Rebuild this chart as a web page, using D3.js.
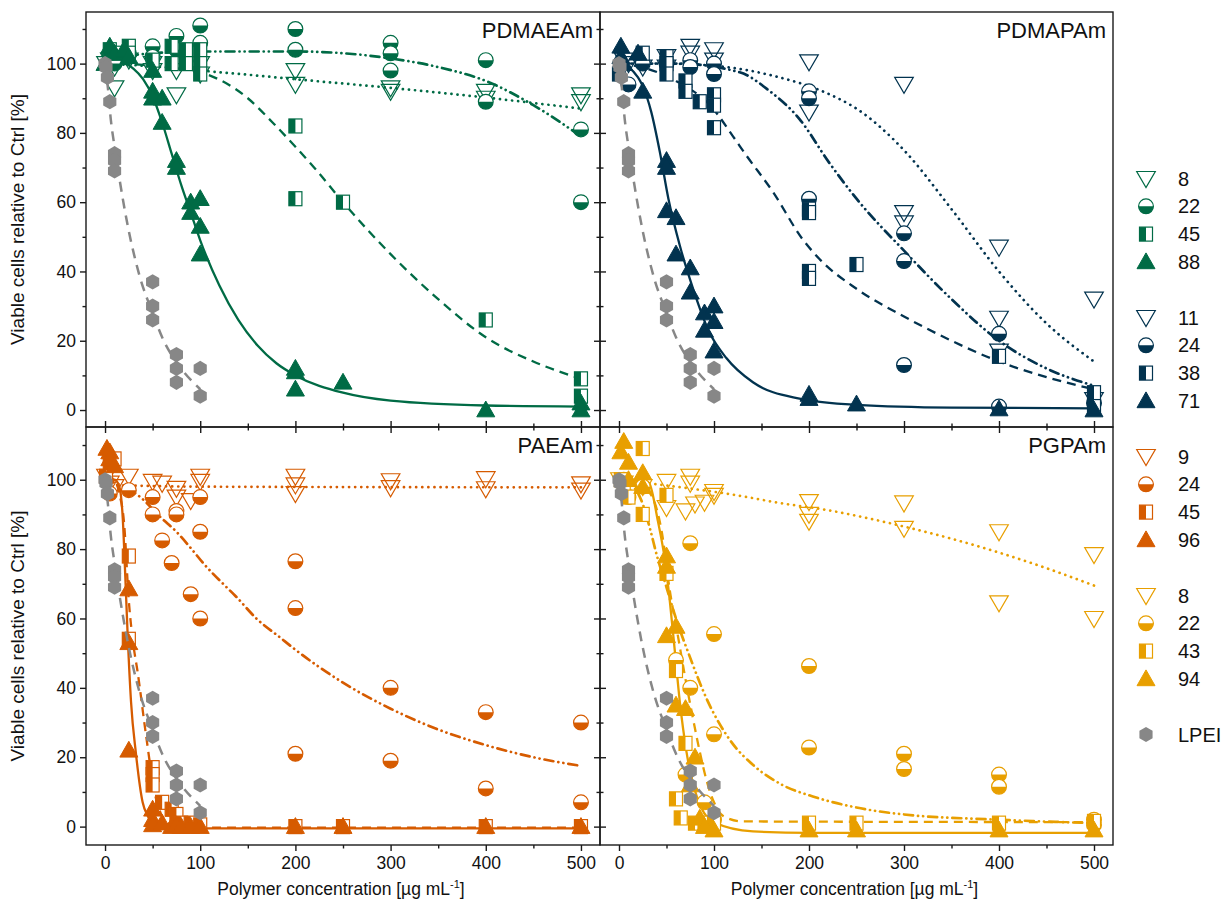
<!DOCTYPE html>
<html>
<head>
<meta charset="utf-8">
<script src="https://cdn.jsdelivr.net/npm/d3@7"></script>
<style>
  body { margin: 0; background: #fff; }
  svg { display: block; }
  text { font-family: "Liberation Sans", Arial, sans-serif; fill: #111; }
</style>
</head>
<body>
<svg id="chart" width="1229" height="913"></svg>
<script>
// ---- data: [concentration µg/mL, viability %] ----
const lpeiPts = [[0,100],[1,99],[2.5,96],[5,89],[10,74],[10,72],[10,69],[50,37],[50,30],[50,26],[75,16],[75,12],[75,8],[100,12],[100,4]];
const lpeiFit = [[0,100],[3,93],[6,84],[10,76],[15,67],[24,53],[36,39],[50,28],[60,21],[80,12],[100,6]];

// PDMAEAm
const aeam8 = [[1,100],[5,101],[10,99],[10,93],[25,101],[50,98],[50,100],[75,98],[75,91],[100,97],[100,100],[200,98],[200,94],[300,92],[300,93],[400,92],[400,90],[500,91],[500,89]];
const aeam8Fit = [[0,100],[50,99.2],[100,98],[150,96.8],[200,95.5],[300,93],[400,90.2],[500,87]];
const aeam22 = [[5,102],[10,100],[25,103],[50,105],[50,102],[75,108],[75,104],[100,111],[100,106],[200,110],[200,104],[300,106],[300,103],[300,98],[400,101],[400,89],[500,81],[500,60]];
const aeam22Fit = [[0,101],[50,103],[100,103.5],[200,103.5],[300,101.5],[350,99],[400,95],[450,88],[500,79]];
const aeam45 = [[5,104],[10,103],[25,105],[25,103],[50,101],[70,105],[70,100],[85,104],[85,100],[100,104],[100,100],[100,97],[200,82],[200,61],[250,60],[400,26],[500,9],[500,4]];
const aeam45Fit = [[0,100],[50,99.5],[100,97.5],[150,90],[176,83],[200,76],[221,69.6],[250,60],[300,45],[350,32],[400,21],[450,14],[500,9]];
const aeam88 = [[0,100],[5,105],[10,103],[20,104],[25,102],[50,98],[50,92],[50,90],[60,90],[60,83],[75,72],[75,70],[90,60],[90,57],[100,61],[100,53],[100,45],[200,12],[200,11],[200,6],[250,8],[400,0],[500,2],[500,0]];
const aeam88Fit = [[0,100],[20,100],[30,98.5],[40,95.5],[50,90.5],[60,83],[70,74],[80,65],[90,57],[100,49],[120,36],[140,26],[160,18.7],[180,13.5],[200,10],[250,5],[300,2.7],[400,1.3],[500,1]];

// PDMAPAm
const apam11 = [[5,101],[10,100],[25,99],[50,102],[50,99],[75,105],[75,103],[100,104],[100,101],[200,100.5],[200,86],[300,94],[300,57],[300,54],[400,47],[400,26.5],[400,17],[500,32],[500,3]];
const apam11Fit = [[0,100],[50,100],[113,99],[162,96.5],[221,91.2],[250,87],[300,75],[350,58],[400,40],[450,25],[500,14]];
const apam24 = [[10,94],[25,100],[50,100],[75,101],[75,99],[100,100],[100,97],[200,92],[200,90],[200,61],[300,51],[300,43],[300,13],[400,22],[400,1],[500,2]];
const apam24Fit = [[0,100],[60,100],[127,97.5],[158,92.2],[190,84],[221,71.5],[250,61],[300,46],[350,32],[400,20],[450,12],[500,7]];
const apam38 = [[0,97],[25,103],[50,102],[50,100],[50,97],[70,95],[70,92],[85,89],[100,91],[100,88],[100,81.5],[200,58],[200,57],[200,40],[200,38],[250,42],[400,15.5],[500,5],[500,1]];
const apam38Fit = [[0,100],[30,98.5],[60,95],[99,87],[120,79],[134,73.5],[162,63],[193,49.4],[211,43.6],[250,35],[300,27],[350,20],[400,14],[450,9.5],[500,6]];
const apam71 = [[2,105],[2,102],[5,100],[20,103],[25,92],[50,72],[50,70],[50,57.5],[60,55.5],[60,45],[75,41],[75,34],[90,28],[100,30],[90,23],[100,25.5],[100,17],[200,4.5],[200,3.3],[250,1.7],[400,0.3],[500,0]];
const apam71Fit = [[0,100],[10,99],[20,96],[25,93.5],[34,86],[43,74.5],[52,61],[64,47.5],[78,35],[95,22.5],[113,15],[141,8],[190,3.3],[250,1.5],[350,0.7],[500,0.5]];

// PAEAm
const aea9 = [[1,101],[5,99],[10,98],[25,101],[50,99.5],[60,99],[75,97.5],[75,95],[90,94],[100,101],[100,99.5],[200,101],[200,98.5],[200,96],[300,99.7],[300,97.7],[400,100.3],[400,97.4],[500,98.8],[500,97]];
const aea9Fit = [[0,98.5],[100,98],[500,97.8]];
const aea24 = [[5,96],[25,97],[50,95],[50,90],[60,82.5],[70,76],[75,91],[75,90],[90,67],[100,60],[100,95],[100,85],[200,76.5],[200,63],[200,21],[300,40],[300,19],[400,33],[400,11],[500,30],[500,7]];
const aea24Fit = [[0,100],[20,98],[37,95],[59,89],[75,85],[91,80],[103,76],[124,70],[137,66.5],[159,60],[184,54.5],[200,51],[250,41.5],[300,34],[350,28],[400,23.5],[450,20],[500,17.5]];
const aea45 = [[1,101],[5,105],[10,106],[25,78],[25,54],[50,17],[50,15],[50,12],[60,7],[70,5],[75,3.5],[80,1],[90,1],[100,0.5],[200,0],[250,0],[400,0],[500,0]];
const aea45Fit = [[0,101],[10,100],[15,96],[20,87.5],[25,65],[30,52],[34,45],[43,26.5],[52,10],[60,3],[70,0.5],[100,-0.3],[500,-0.3]];
const aea96 = [[2,109],[5,108],[5,106],[10,104],[25,68.5],[25,53],[25,22],[50,5],[50,2],[50,0.5],[60,1],[70,0],[75,0.5],[80,0],[90,0],[100,0],[200,0],[250,0],[400,0],[500,0]];
const aea96Fit = [[0,100],[10,100],[15,98],[18.6,89],[21.3,72],[23.8,55],[27.3,36],[32.5,21],[39.5,7],[45,3],[50,1],[60,0],[100,-0.5],[500,-0.5]];

// PGPAm
const gpa8 = [[1,100],[5,99],[25,98],[50,99.5],[50,92],[70,91],[75,101],[75,99],[80,93],[90,93.5],[100,96.6],[100,95.5],[200,93.7],[200,90],[200,88],[300,93.3],[300,86],[400,85],[400,64.5],[500,78.4],[500,60]];
const gpa8Fit = [[0,100],[60,98],[120,95.7],[169,93.3],[218,91.3],[300,86.5],[350,83],[400,79],[450,74.5],[500,69.5]];
const gpa22 = [[5,100],[10,95],[25,98],[60,48],[75,81.7],[75,40],[70,15],[90,7],[100,55.5],[100,26.6],[100,2],[200,46.3],[200,22.8],[300,21],[300,16.6],[400,15],[400,11.5],[500,2],[500,0.5]];
const gpa22Fit = [[0,100],[15,98],[25,93],[32.5,86],[40,78],[50,69],[58.8,61],[74.5,49],[92,37],[118,24.5],[141,17.8],[172,12],[204,8.7],[250,5.5],[300,3.5],[400,2],[500,1]];
const gpa43 = [[2,100],[5,97],[10,95],[25,109],[25,90],[50,95.5],[50,73],[60,45],[70,24],[60,8],[65,2.5],[80,1],[90,1],[100,1],[200,1],[250,1],[400,1],[500,1.5]];
const gpa43Fit = [[0,100],[20,99],[35,95],[45,85],[53.5,68],[62,55],[69,44],[78,31],[85,21.6],[92,13.5],[100,7],[110,3],[130,1.5],[500,1.3]];
const gpa94 = [[2,108],[5,111],[10,105],[10,100],[25,102],[25,98],[50,78],[50,75],[50,55],[60,57.7],[60,35],[70,34],[80,20],[75,12],[85,2.4],[90,0],[100,-1],[200,-1],[250,-1],[400,-1],[500,-1]];
const gpa94Fit = [[0,100],[20,100],[30,99.5],[32.5,98.6],[41,88],[48,77.4],[53.5,65],[58.8,50.5],[64,36],[71,21.6],[81.5,9],[99,1.4],[141,-1.4],[200,-1.8],[500,-1.8]];

const panelTitles = ['PDMAEAm', 'PDMAPAm', 'PAEAm', 'PGPAm'];
const panelColors = ['#006b45', '#02334f', '#d65b00', '#e89f00'];
const lpeiColor = '#878787';
const legendLabels = [['8','22','45','88'], ['11','24','38','71'], ['9','24','45','96'], ['8','22','43','94']];
const xTicks = [0, 100, 200, 300, 400, 500];
const yTicks = [0, 20, 40, 60, 80, 100];

// ---- layout ----
const svg = d3.select('#chart');
const cols = [[86, 600], [600, 1113]];
const rows = [[12, 427], [427, 845]];
const yDomains = [[-4.9, 114.9], [-5.3, 115.2]];
const shapes = ['tdown', 'circ', 'sq', 'tup'];
const dashes = ['0.1,6', '9,5,0.1,5,0.1,5', '9,6', null];

const panels = [
  { series: [aeam8, aeam22, aeam45, aeam88], fits: [aeam8Fit, aeam22Fit, aeam45Fit, aeam88Fit] },
  { series: [apam11, apam24, apam38, apam71], fits: [apam11Fit, apam24Fit, apam38Fit, apam71Fit] },
  { series: [aea9, aea24, aea45, aea96], fits: [aea9Fit, aea24Fit, aea45Fit, aea96Fit] },
  { series: [gpa8, gpa22, gpa43, gpa94], fits: [gpa8Fit, gpa22Fit, gpa43Fit, gpa94Fit] }
];

function drawMarker(g, shape, color, s) {
  s = s || 1;
  if (shape === 'tdown') {
    g.append('path').attr('d', `M${-9.3*s},${-7*s}L${9.3*s},${-7*s}L0,${9*s}Z`)
      .attr('fill', 'none').attr('stroke', color).attr('stroke-width', 1.2);
  } else if (shape === 'tup') {
    g.append('path').attr('d', `M${-9*s},${6.8*s}L${9*s},${6.8*s}L0,${-9*s}Z`)
      .attr('fill', color).attr('stroke', color).attr('stroke-width', 1);
  } else if (shape === 'circ') {
    const r = 7.4 * s;
    g.append('circle').attr('r', r).attr('fill', '#fff').attr('stroke', color).attr('stroke-width', 1.2);
    g.append('path').attr('d', `M${-r},0A${r},${r} 0 0 0 ${r},0Z`).attr('fill', color);
  } else if (shape === 'sq') {
    g.append('rect').attr('x', -6.5*s).attr('y', -7*s).attr('width', 13*s).attr('height', 14*s)
      .attr('fill', '#fff').attr('stroke', color).attr('stroke-width', 1.2);
    g.append('rect').attr('x', -6.5*s).attr('y', -7*s).attr('width', 6.5*s).attr('height', 14*s)
      .attr('fill', color);
  } else if (shape === 'hex') {
    const r = 7.6 * s;
    const pts = d3.range(6).map(k => {
      const a = (-90 + 60 * k) * Math.PI / 180;
      return [r * Math.cos(a), r * Math.sin(a)];
    });
    g.append('path').attr('d', 'M' + pts.join('L') + 'Z').attr('fill', color);
  }
}

panels.forEach((p, i) => {
  const c = i % 2, r = Math.floor(i / 2);
  const [x0, x1] = cols[c], [y0, y1] = rows[r];
  const x = d3.scaleLinear().domain([-20, 520]).range([x0, x1]);
  const y = d3.scaleLinear().domain(yDomains[r]).range([y1, y0]);
  const color = panelColors[i];

  const clipId = 'clip' + i;
  svg.append('clipPath').attr('id', clipId).append('rect')
    .attr('x', x0).attr('y', y0).attr('width', x1 - x0).attr('height', y1 - y0);
  const plot = svg.append('g').attr('clip-path', `url(#${clipId})`);

  const line = d3.line().x(d => x(d[0])).y(d => y(d[1])).curve(d3.curveMonotoneX);

  p.fits.forEach((f, k) => {
    plot.append('path').datum(f).attr('d', line)
      .attr('fill', 'none').attr('stroke', color).attr('stroke-width', k <= 1 ? 2.7 : 2.3)
      .attr('stroke-linecap', k <= 1 ? 'round' : 'butt')
      .attr('stroke-dasharray', dashes[k]);
  });

  p.series.forEach((s, k) => {
    plot.selectAll(null).data(s).enter().append('g')
      .attr('transform', d => `translate(${x(d[0])},${y(d[1])})`)
      .each(function () { drawMarker(d3.select(this), shapes[k], color); });
  });

  // LPEI reference on top
  plot.append('path').datum(lpeiFit).attr('d', line)
    .attr('fill', 'none').attr('stroke', lpeiColor).attr('stroke-width', 2.5)
    .attr('stroke-dasharray', '10,7');
  plot.selectAll(null).data(lpeiPts).enter().append('g')
    .attr('transform', d => `translate(${x(d[0])},${y(d[1])})`)
    .each(function () { drawMarker(d3.select(this), 'hex', lpeiColor); });

  // frame
  svg.append('rect').attr('x', x0).attr('y', y0).attr('width', x1 - x0).attr('height', y1 - y0)
    .attr('fill', 'none').attr('stroke', '#1a1a1a').attr('stroke-width', 1.4);

  const styleAxis = g => {
    g.select('.domain').remove();
    g.selectAll('line').attr('stroke', '#1a1a1a').attr('stroke-width', 1.4);
    g.selectAll('text').style('font-size', '17.5px').attr('fill', '#111');
  };
  const minorY = d3.range(10, 115, 20);
  const minorX = d3.range(50, 500, 100);

  // y axis: labels on the outer left, crossing ticks on the middle line
  if (c === 0) {
    svg.append('g').attr('transform', `translate(${x0},0)`)
      .call(d3.axisLeft(y).tickValues(yTicks).tickSize(6).tickPadding(4)).call(styleAxis);
    svg.append('g').attr('transform', `translate(${x0},0)`)
      .call(d3.axisLeft(y).tickValues(minorY).tickSize(3.5).tickFormat('')).call(styleAxis);
  } else {
    [d3.axisLeft, d3.axisRight].forEach(ax => {
      svg.append('g').attr('transform', `translate(${x0},0)`)
        .call(ax(y).tickValues(yTicks).tickSize(6).tickFormat('')).call(styleAxis);
      svg.append('g').attr('transform', `translate(${x0},0)`)
        .call(ax(y).tickValues(minorY).tickSize(3.5).tickFormat('')).call(styleAxis);
    });
  }

  // x axis: labels at the bottom row, crossing ticks on the middle line
  if (r === 1) {
    svg.append('g').attr('transform', `translate(0,${y1})`)
      .call(d3.axisBottom(x).tickValues(xTicks).tickSize(6).tickPadding(6)).call(styleAxis);
    svg.append('g').attr('transform', `translate(0,${y1})`)
      .call(d3.axisBottom(x).tickValues(minorX).tickSize(3.5).tickFormat('')).call(styleAxis);
  } else {
    [d3.axisBottom, d3.axisTop].forEach(ax => {
      svg.append('g').attr('transform', `translate(0,${y1})`)
        .call(ax(x).tickValues(xTicks).tickSize(6).tickFormat('')).call(styleAxis);
      svg.append('g').attr('transform', `translate(0,${y1})`)
        .call(ax(x).tickValues(minorX).tickSize(3.5).tickFormat('')).call(styleAxis);
    });
  }

  // panel title
  svg.append('text').attr('x', x1 - 7).attr('y', y0 + 26).attr('text-anchor', 'end')
    .style('font-size', '22px').text(panelTitles[i]);

  // axis titles
  if (c === 0) {
    svg.append('text').attr('transform', `translate(24,${(y0 + y1) / 2}) rotate(-90)`)
      .attr('text-anchor', 'middle').style('font-size', '19px')
      .text('Viable cells relative to Ctrl [%]');
  }
  if (r === 1) {
    const t = svg.append('text').attr('x', (x0 + x1) / 2 - 2).attr('y', 895)
      .attr('text-anchor', 'middle').style('font-size', '17.5px');
    t.append('tspan').text('Polymer concentration [µg mL');
    t.append('tspan').attr('dy', -7).style('font-size', '11px').text('-1');
    t.append('tspan').attr('dy', 7).text(']');
  }
});

// ---- legend ----
const legend = svg.append('g');
let row = 0;
legendLabels.forEach((labels, i) => {
  labels.forEach((lab, k) => {
    const yy = 178.5 + row * 27.8;
    const g = legend.append('g').attr('transform', `translate(1146,${yy})`);
    drawMarker(g, shapes[k], panelColors[i], 1);
    legend.append('text').attr('x', 1178).attr('y', yy + 7).style('font-size', '20px').text(lab);
    row++;
  });
  row++;
});
{
  const yy = 178.5 + row * 27.8;
  const g = legend.append('g').attr('transform', `translate(1146,${yy})`);
  drawMarker(g, 'hex', lpeiColor, 1);
  legend.append('text').attr('x', 1178).attr('y', yy + 7).style('font-size', '20px').text('LPEI');
}
</script>
</body>
</html>
